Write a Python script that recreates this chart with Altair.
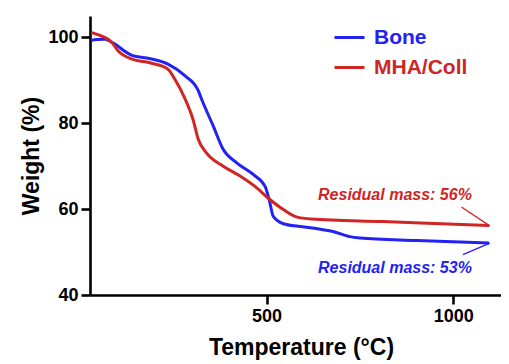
import altair as alt
import pandas as pd

# ---- data ----
bone_temp = [30, 45, 67, 85, 138, 192, 236, 281, 317, 326, 357, 384, 420, 464, 496, 507, 518, 545, 585, 640, 678, 723, 750, 902, 1096]
bone_weight = [99.3, 99.5, 99.6, 98.9, 95.9, 95.0, 93.8, 91.1, 87.6, 85.6, 79.4, 73.9, 70.8, 68.1, 65.3, 62.2, 58.3, 56.6, 56.0, 55.4, 54.8, 53.6, 53.3, 52.7, 52.1]

coll_temp = [30, 50, 85, 102, 138, 192, 236, 254, 281, 303, 317, 339, 384, 429, 473, 504, 545, 580, 620, 812, 1096]
coll_weight = [101.2, 100.6, 98.9, 96.9, 95.0, 94.0, 92.6, 90.3, 85.8, 80.9, 76.3, 73.1, 70.0, 67.7, 65.0, 62.6, 59.9, 58.2, 57.7, 57.1, 56.2]

series_names = ["Bone", "MHA/Coll"]
series_colors = ["#2222f2", "#d02525"]

note_text = ["Residual mass: 56%", "Residual mass: 53%"]
note_temp = [1050, 1050]
note_weight = [63.4, 46.3]
note_color = ["#d02525", "#2222f2"]

lead_temp = [1022, 1026]
lead_weight = [60.5, 49.4]
lead_temp2 = [1098, 1098]
lead_weight2 = [56.1, 52.1]
lead_color = ["#d02525", "#2222f2"]

x_ticks = [500, 1000]
y_ticks = [40, 60, 80, 100]

# ---- tables ----
curves = pd.concat([
    pd.DataFrame({"T": bone_temp, "W": bone_weight, "series": series_names[0], "order": range(len(bone_temp))}),
    pd.DataFrame({"T": coll_temp, "W": coll_weight, "series": series_names[1], "order": range(len(coll_temp))}),
])
notes = pd.DataFrame({"T": note_temp, "W": note_weight, "text": note_text, "c": note_color})
leads = pd.DataFrame({"T": lead_temp, "W": lead_weight, "T2": lead_temp2, "W2": lead_weight2, "c": lead_color})

FONT = "Liberation Sans"

xscale = alt.Scale(domain=[27, 1128], nice=False, zero=False)
yscale = alt.Scale(domain=[40, 105], nice=False, zero=False)

lines = alt.Chart(curves).mark_line(strokeWidth=3, interpolate="monotone").encode(
    x=alt.X("T:Q", scale=xscale,
            axis=alt.Axis(values=x_ticks, format="d", title="Temperature (°C)", titleX=211, titleY=59,
                          titleBaseline="alphabetic", titleAlign="center")),
    y=alt.Y("W:Q", scale=yscale,
            axis=alt.Axis(values=y_ticks, format="d", title="Weight (%)", titleX=-52, titleY=139.5,
                          titleAngle=-90, titleBaseline="alphabetic", titleAlign="center")),
    color=alt.Color("series:N",
                    scale=alt.Scale(domain=series_names, range=series_colors),
                    legend=alt.Legend(
                        title=None, orient="none", legendX=243, legendY=5,
                        symbolType="stroke", symbolSize=900, symbolStrokeWidth=3,
                        labelFont=FONT, labelFontSize=21, labelFontWeight="bold",
                        labelOffset=8, rowPadding=3, padding=0,
                        labelColor=alt.ExprRef("datum.value == 'Bone' ? '#2222f2' : '#d02525'"),
                    )),
    order="order:Q",
)

texts = alt.Chart(notes).mark_text(font=FONT, fontSize=16, fontWeight="bold", fontStyle="italic",
                                   align="right", baseline="middle").encode(
    x=alt.X("T:Q", scale=xscale), y=alt.Y("W:Q", scale=yscale),
    text="text:N", color=alt.Color("c:N", scale=None),
)

rules = alt.Chart(leads).mark_rule(strokeWidth=1.3).encode(
    x=alt.X("T:Q", scale=xscale), y=alt.Y("W:Q", scale=yscale),
    x2="T2:Q", y2="W2:Q", color=alt.Color("c:N", scale=None),
)

chart = alt.layer(lines, texts, rules).properties(
    width=411, height=279,
    autosize=alt.AutoSizeParams(type="none"),
    padding={"left": 82, "top": 8, "right": 0, "bottom": 66},
).configure_view(stroke=None).configure_axis(
    grid=False, domainColor="black", domainWidth=2.6, tickColor="black", tickWidth=2.6,
    tickSize=9, labelFont=FONT, labelFontSize=18, labelFontWeight="bold", labelColor="black",
    labelPadding=3, titleFont=FONT, titleFontSize=23, titleFontWeight="bold", titleColor="black",
)

chart.save("out.html", embed_options={"renderer": "svg", "actions": False})
